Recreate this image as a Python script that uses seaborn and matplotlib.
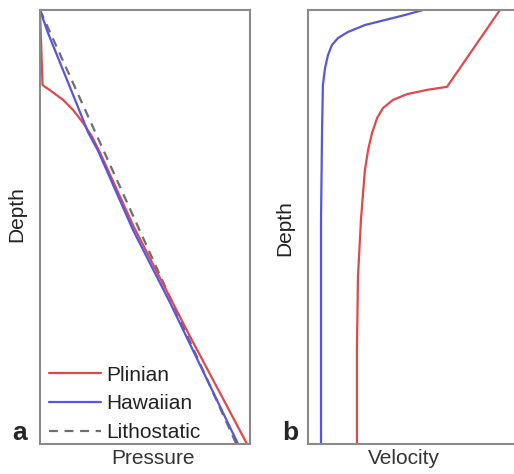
import matplotlib
matplotlib.use("Agg")
import matplotlib.pyplot as plt
import seaborn as sns

# panel a: pressure profiles (normalised depth, normalised pressure)
depth_plinian_a = [0.0, 0.173, 0.185, 0.207, 0.230, 0.260, 0.292, 0.330, 0.500, 0.750, 1.000]
press_plinian = [0.0, 0.012, 0.048, 0.110, 0.157, 0.205, 0.248, 0.287, 0.447, 0.712, 0.986]
depth_hawaiian_a = [0.0, 0.053, 0.207, 0.283, 0.323, 0.507, 0.675, 1.000]
press_hawaiian = [0.0, 0.038, 0.167, 0.230, 0.275, 0.443, 0.620, 0.943]
depth_litho = [0.0, 1.0]
press_litho = [0.0, 0.935]

# panel b: velocity profiles
depth_plinian_b = [0.0, 0.177, 0.184, 0.194, 0.207, 0.226, 0.249, 0.283, 0.323,
                   0.369, 0.484, 0.615, 0.783, 1.000]
vel_plinian = [0.914, 0.662, 0.567, 0.471, 0.405, 0.357, 0.329, 0.305, 0.286,
               0.271, 0.252, 0.238, 0.233, 0.233]
depth_hawaiian_b = [0.0, 0.0115, 0.023, 0.0346, 0.0507, 0.0645, 0.0806, 0.104,
                    0.134, 0.173, 0.276, 0.484, 1.000]
vel_hawaiian = [0.548, 0.462, 0.367, 0.271, 0.190, 0.143, 0.114, 0.095,
                0.081, 0.071, 0.067, 0.062, 0.062]

RED = "#e0484c"
BLUE = "#5656e0"
GREY = "#6e6e6e"
SPINE = "#8a8a8a"

sns.set_theme(style="white")
plt.rcParams["font.family"] = ["Liberation Sans", "DejaVu Sans"]

fig = plt.figure(figsize=(5.14, 4.74), dpi=100)
W, H = 514, 474
ax_a = fig.add_axes([40 / W, 30 / H, 210 / W, 434 / H])
ax_b = fig.add_axes([308 / W, 30 / H, 210 / W, 434 / H])

sns.lineplot(x=press_plinian, y=depth_plinian_a, sort=False, estimator=None,
             color=RED, lw=1.6, ax=ax_a, label="Plinian")
sns.lineplot(x=press_hawaiian, y=depth_hawaiian_a, sort=False, estimator=None,
             color=BLUE, lw=1.6, ax=ax_a, label="Hawaiian")
sns.lineplot(x=press_litho, y=depth_litho, sort=False, estimator=None,
             color=GREY, lw=1.6, ax=ax_a, label="Lithostatic", dashes=False)
ax_a.lines[-1].set_dashes((4, 3))
ax_a.lines[-1].set_zorder(1.5)

sns.lineplot(x=vel_plinian, y=depth_plinian_b, sort=False, estimator=None,
             color=RED, lw=1.6, ax=ax_b)
sns.lineplot(x=vel_hawaiian, y=depth_hawaiian_b, sort=False, estimator=None,
             color=BLUE, lw=1.6, ax=ax_b)

for ax in (ax_a, ax_b):
    ax.set_xlim(0, 1)
    ax.set_ylim(1, 0)
    ax.set_xticks([])
    ax.set_yticks([])
    for s in ax.spines.values():
        s.set_color(SPINE)
        s.set_linewidth(1.5)
    ax.set_ylabel("Depth", fontsize=15, color="#222222")
    ax.yaxis.set_label_coords(-0.067, 0.53 if ax is ax_a else 0.498)

ax_a.set_xlabel("Pressure", fontsize=15, color="#333333")
ax_a.xaxis.set_label_coords(0.54, -0.012)
ax_b.set_xlabel("Velocity", fontsize=15, color="#333333")
ax_b.xaxis.set_label_coords(0.457, -0.012)

leg = ax_a.legend(loc="lower left", bbox_to_anchor=(-0.019, -0.024), frameon=False,
                  fontsize=15, handlelength=2.5, handletextpad=0.28,
                  labelspacing=0.46, borderaxespad=0.2)
for t in leg.get_texts():
    t.set_color("#222222")

fig.text(20 / W, 1 - 440 / H, "a", fontsize=19, fontweight="bold",
         ha="center", va="baseline")
fig.text(290 / W, 1 - 440 / H, "b", fontsize=19, fontweight="bold",
         ha="center", va="baseline")

fig.savefig("out.png", dpi=100)
